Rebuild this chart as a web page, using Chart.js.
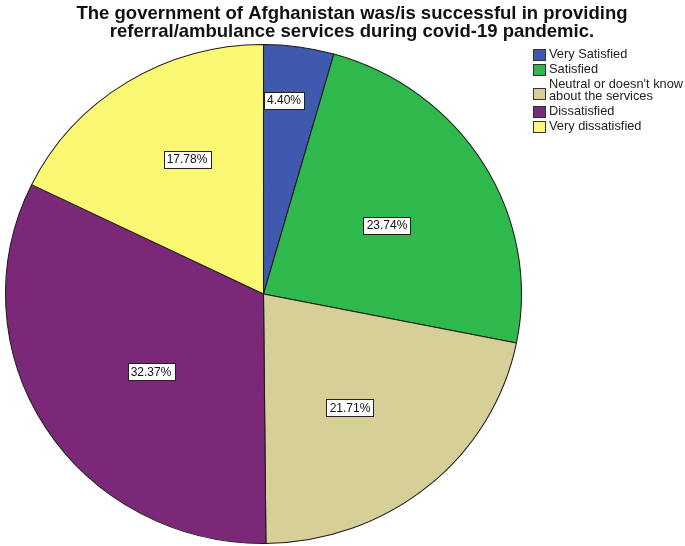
<!DOCTYPE html>
<html>
<head>
<meta charset="utf-8">
<script src="https://cdn.jsdelivr.net/npm/chart.js@4.4.1/dist/chart.umd.min.js"></script>
<style>
  html, body { margin: 0; padding: 0; background: #ffffff; }
  #wrap { width: 685px; height: 546px; position: relative; }
</style>
</head>
<body>
<div id="wrap"><canvas id="pie" width="685" height="546"></canvas></div>
<script>
// Survey answers and their shares (percent)
const categories = [
  "Very Satisfied",
  "Satisfied",
  "Neutral or doesn't know about the services",
  "Dissatisfied",
  "Very dissatisfied"
];
const shares = [4.40, 23.74, 21.71, 32.37, 17.78];
const sliceColors = ["#3e59ad", "#2fb84b", "#d6cf98", "#7b2879", "#fbf873"];
const titleLines = [
  "The government of Afghanistan was/is successful in providing",
  "referral/ambulance services during covid-19 pandemic."
];

// Placement of each value box: distance from the centre (fraction of radius)
// and a small angular nudge (degrees) away from the slice's mid angle
const labelRadius = [0.78, 0.566, 0.572, 0.548, 0.62];
const labelNudge = [-2, 2.2, 2.4, -2.5, 2.5];
// Horizontal stretch of the pie (it is drawn slightly wider than tall)
const stretchX = 1.034;

const FONT = "'Liberation Sans', Arial, sans-serif";

const stretchPlugin = {
  id: 'stretch',
  beforeDatasetsDraw(chart) {
    const arc = chart.getDatasetMeta(0).data[0];
    const ctx = chart.ctx;
    ctx.save();
    ctx.translate(arc.x, arc.y);
    ctx.scale(stretchX, 1);
    ctx.translate(-arc.x, -arc.y);
  },
  afterDatasetsDraw(chart) {
    chart.ctx.restore();
  }
};

const decorPlugin = {
  id: 'decor',
  afterDraw(chart) {
    const ctx = chart.ctx;
    const meta = chart.getDatasetMeta(0);

    // value boxes
    ctx.save();
    ctx.font = "12px " + FONT;
    ctx.textAlign = "center";
    ctx.textBaseline = "middle";
    meta.data.forEach((arc, i) => {
      const mid = (arc.startAngle + arc.endAngle) / 2 + labelNudge[i] * Math.PI / 180;
      const r = arc.outerRadius * labelRadius[i];
      const cx = arc.x + Math.cos(mid) * r;
      const cy = arc.y + Math.sin(mid) * r;
      const txt = shares[i].toFixed(2) + "%";
      const w = Math.round(ctx.measureText(txt).width) + 6;
      const h = 17;
      const x0 = Math.round(cx - w / 2) + 0.5;
      const y0 = Math.round(cy - h / 2) + 0.5;
      ctx.fillStyle = "#ffffff";
      ctx.fillRect(x0, y0, w, h);
      ctx.strokeStyle = "#222222";
      ctx.lineWidth = 1;
      ctx.strokeRect(x0, y0, w, h);
      ctx.fillStyle = "#111111";
      ctx.fillText(txt, Math.round(cx), Math.round(cy) + 1);
    });
    ctx.restore();

    // title
    ctx.save();
    ctx.font = "bold 18.5px " + FONT;
    ctx.fillStyle = "#111111";
    ctx.textAlign = "center";
    ctx.textBaseline = "alphabetic";
    ctx.fillText(titleLines[0], 352, 19);
    ctx.fillText(titleLines[1], 352, 37);
    ctx.restore();

    // legend
    ctx.save();
    ctx.font = "12.8px " + FONT;
    ctx.textAlign = "left";
    ctx.textBaseline = "middle";
    const lx = 533, tx = 549, maxW = 140, lineH = 12;
    let y = 48;
    categories.forEach((name, i) => {
      const words = name.split(" ");
      const lines = [];
      let cur = "";
      words.forEach(wd => {
        const test = cur ? cur + " " + wd : wd;
        if (ctx.measureText(test).width > maxW && cur) { lines.push(cur); cur = wd; }
        else cur = test;
      });
      lines.push(cur);
      const itemH = lines.length * lineH + 3;
      ctx.fillStyle = "#222222";
      lines.forEach((ln, k) => ctx.fillText(ln, tx, y + 6.5 + k * lineH));
      const sc = lines.length > 1 ? y + itemH / 2 + 2 : y + 6;
      ctx.fillStyle = sliceColors[i];
      ctx.fillRect(lx + 0.5, Math.round(sc - 5.5) + 0.5, 12, 11);
      ctx.strokeStyle = "#333333";
      ctx.lineWidth = 1;
      ctx.strokeRect(lx + 0.5, Math.round(sc - 5.5) + 0.5, 12, 11);
      y += itemH;
    });
    ctx.restore();
  }
};

new Chart(document.getElementById('pie'), {
  type: 'pie',
  data: {
    labels: categories,
    datasets: [{
      data: shares,
      backgroundColor: sliceColors,
      borderColor: "#1c1c1c",
      borderWidth: 1,
      borderAlign: 'center'
    }]
  },
  options: {
    responsive: false,
    animation: false,
    events: [],
    layout: { padding: { left: 13, right: 171, top: 44, bottom: 2 } },
    plugins: {
      legend: { display: false },
      title: { display: false },
      tooltip: { enabled: false }
    }
  },
  plugins: [stretchPlugin, decorPlugin]
});
</script>
</body>
</html>
